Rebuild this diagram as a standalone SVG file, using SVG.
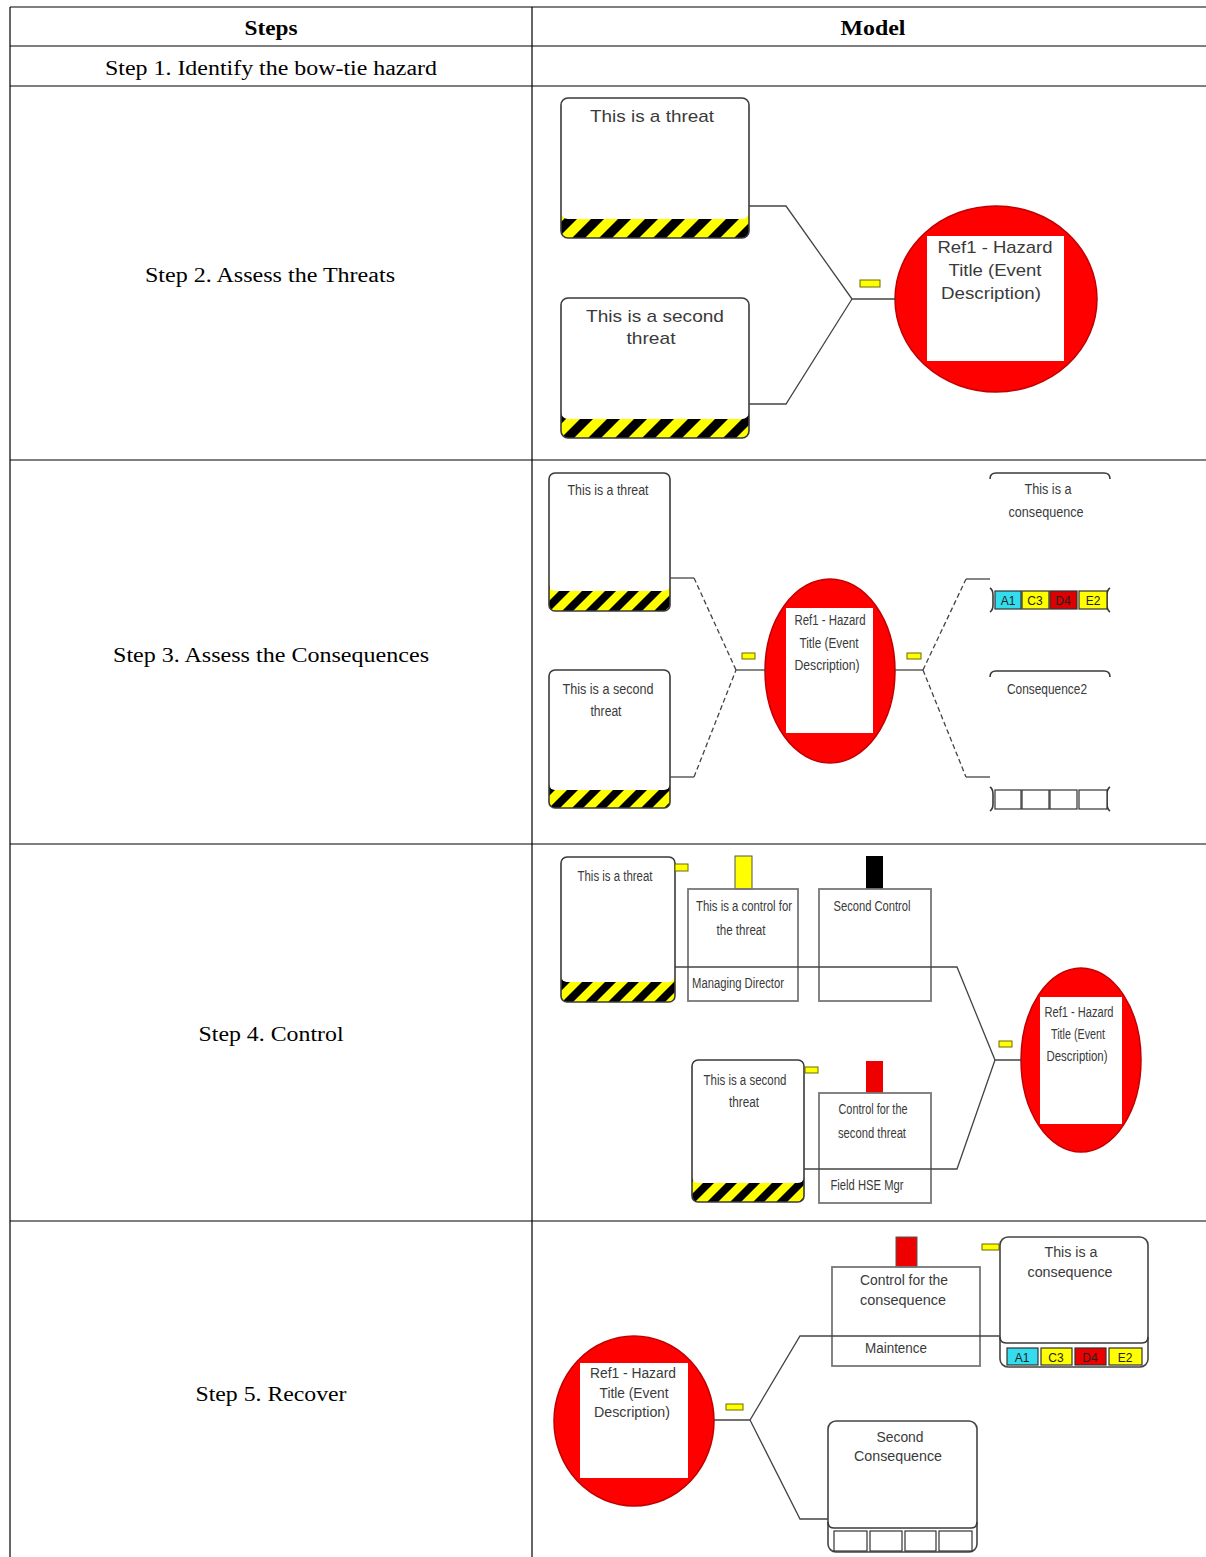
<svg xmlns="http://www.w3.org/2000/svg" width="1206" height="1557" viewBox="0 0 1206 1557">
<style>
.grid{stroke:#000;stroke-width:1.2;fill:none}
.tbl{font-family:"Liberation Serif","Times New Roman",serif;font-size:20px;fill:#000;text-anchor:middle}
.hdr{font-weight:bold}
.lbl{font-family:"Liberation Sans",Arial,sans-serif;fill:#3a3a3a;text-anchor:middle}
.s2{font-size:17px}
.sm{font-size:14px}
.bdg{font-family:"Liberation Sans",Arial,sans-serif;font-size:12px;fill:#222;text-anchor:middle}
.outl{fill:none;stroke:#3a3a3a;stroke-width:1.6}
.box{fill:#fff;stroke:#444;stroke-width:1.6}
.ctl{fill:none;stroke:#777;stroke-width:1.8}
.conn{fill:none;stroke:#444;stroke-width:1.3}
.dash{stroke-dasharray:5 3}
.tab{fill:#ffff00;stroke:#6b6b00;stroke-width:1}
.haz{fill:#ff0000;stroke:#c00000;stroke-width:1.5}
.hin{fill:#fff}
.cell{stroke:#333;stroke-width:1.2}
</style>
<defs>
<pattern id="hz1" patternUnits="userSpaceOnUse" width="27" height="27" patternTransform="skewX(-45)"><rect width="27" height="27" fill="#ffff00"/><rect width="13" height="27" fill="#000"/></pattern>
<pattern id="hz2" patternUnits="userSpaceOnUse" width="23" height="23" patternTransform="skewX(-45)"><rect width="23" height="23" fill="#ffff00"/><rect width="11" height="23" fill="#000"/></pattern>
</defs>
<rect width="1206" height="1557" fill="#fff"/>

<g id="table">
<line class="grid" x1="10" y1="7" x2="1206" y2="7"/>
<line class="grid" x1="10" y1="46" x2="1206" y2="46"/>
<line class="grid" x1="10" y1="86" x2="1206" y2="86"/>
<line class="grid" x1="10" y1="460" x2="1206" y2="460"/>
<line class="grid" x1="10" y1="844" x2="1206" y2="844"/>
<line class="grid" x1="10" y1="1221" x2="1206" y2="1221"/>
<line class="grid" x1="10" y1="7" x2="10" y2="1557"/>
<line class="grid" x1="532" y1="7" x2="532" y2="1557"/>
<text class="tbl hdr" x="271" y="35" textLength="53" lengthAdjust="spacingAndGlyphs">Steps</text>
<text class="tbl hdr" x="873" y="35" textLength="65" lengthAdjust="spacingAndGlyphs">Model</text>
<text class="tbl" x="271" y="75" textLength="332" lengthAdjust="spacingAndGlyphs">Step 1. Identify the bow-tie hazard</text>
<text class="tbl" x="270" y="282" textLength="250" lengthAdjust="spacingAndGlyphs">Step 2. Assess the Threats</text>
<text class="tbl" x="271" y="662" textLength="316" lengthAdjust="spacingAndGlyphs">Step 3. Assess the Consequences</text>
<text class="tbl" x="271" y="1041" textLength="145" lengthAdjust="spacingAndGlyphs">Step 4. Control</text>
<text class="tbl" x="271" y="1401" textLength="151" lengthAdjust="spacingAndGlyphs">Step 5. Recover</text>
</g>

<!-- ===== Step 2 ===== -->
<g id="s2-threat1">
<rect x="561" y="98" width="188" height="140" rx="7" fill="url(#hz1)"/>
<rect x="561" y="98" width="188" height="121" rx="7" fill="#fff"/>
<rect class="outl" x="561" y="98" width="188" height="140" rx="7"/>
<text class="lbl s2" x="652" y="122" textLength="124" lengthAdjust="spacingAndGlyphs">This is a threat</text>
</g>
<g id="s2-threat2">
<rect x="561" y="298" width="188" height="140" rx="7" fill="url(#hz1)"/>
<rect x="561" y="298" width="188" height="121" rx="7" fill="#fff"/>
<rect class="outl" x="561" y="298" width="188" height="140" rx="7"/>
<text class="lbl s2" x="655" y="322" textLength="138" lengthAdjust="spacingAndGlyphs">This is a second</text>
<text class="lbl s2" x="651" y="344" textLength="49" lengthAdjust="spacingAndGlyphs">threat</text>
</g>
<g id="s2-tab"><rect class="tab" x="860" y="280" width="20" height="7"/></g>
<g id="s2-hazard">
<ellipse class="haz" cx="996" cy="299" rx="101" ry="93"/>
<rect class="hin" x="927" y="236" width="137" height="125"/>
<text class="lbl s2" x="995" y="253" textLength="115" lengthAdjust="spacingAndGlyphs">Ref1 - Hazard</text>
<text class="lbl s2" x="995" y="276" textLength="93" lengthAdjust="spacingAndGlyphs">Title (Event</text>
<text class="lbl s2" x="991" y="299" textLength="100" lengthAdjust="spacingAndGlyphs">Description)</text>
</g>

<!-- ===== Step 3 ===== -->
<g id="s3-threat1">
<rect x="549" y="473" width="121" height="138" rx="6" fill="url(#hz2)"/>
<rect x="549" y="473" width="121" height="118" rx="6" fill="#fff"/>
<rect class="outl" x="549" y="473" width="121" height="138" rx="6"/>
<text class="lbl sm" x="608" y="495" textLength="81" lengthAdjust="spacingAndGlyphs">This is a threat</text>
</g>
<g id="s3-threat2">
<rect x="549" y="670" width="121" height="138" rx="6" fill="url(#hz2)"/>
<rect x="549" y="670" width="121" height="120" rx="6" fill="#fff"/>
<rect class="outl" x="549" y="670" width="121" height="138" rx="6"/>
<text class="lbl sm" x="608" y="694" textLength="91" lengthAdjust="spacingAndGlyphs">This is a second</text>
<text class="lbl sm" x="606" y="716" textLength="31" lengthAdjust="spacingAndGlyphs">threat</text>
</g>
<g id="s3-tabs">
<rect class="tab" x="742" y="653" width="13" height="6"/>
<rect class="tab" x="907" y="653" width="14" height="6"/>
</g>
<g id="s3-hazard">
<ellipse class="haz" cx="830" cy="671" rx="65" ry="92"/>
<rect class="hin" x="786" y="608" width="87" height="125"/>
<text class="lbl sm" x="830" y="625" textLength="71" lengthAdjust="spacingAndGlyphs">Ref1 - Hazard</text>
<text class="lbl sm" x="829" y="648" textLength="59" lengthAdjust="spacingAndGlyphs">Title (Event</text>
<text class="lbl sm" x="827" y="670" textLength="65" lengthAdjust="spacingAndGlyphs">Description)</text>
</g>
<g id="s3-consequence1">
<path class="outl" d="M990,479 Q990,473 996,473 H1104 Q1110,473 1110,479"/>
<path class="outl" d="M990,588 Q993,590 993,595 V605 Q993,610 990,612 M1110,588 Q1107,590 1107,595 V605 Q1107,610 1110,612"/>
<rect class="cell" x="995" y="591" width="26" height="18" fill="#33ddee"/>
<rect class="cell" x="1022" y="591" width="27" height="18" fill="#ffff00"/>
<rect class="cell" x="1050" y="591" width="27" height="18" fill="#dd0000"/>
<rect class="cell" x="1079" y="591" width="28" height="18" fill="#ffff00"/>
<text class="bdg" x="1008" y="605">A1</text>
<text class="bdg" x="1035" y="605">C3</text>
<text class="bdg" x="1063" y="605">D4</text>
<text class="bdg" x="1093" y="605">E2</text>
<text class="lbl sm" x="1048" y="494" textLength="47" lengthAdjust="spacingAndGlyphs">This is a</text>
<text class="lbl sm" x="1046" y="517" textLength="75" lengthAdjust="spacingAndGlyphs">consequence</text>
</g>
<g id="s3-consequence2">
<path class="outl" d="M990,677 Q990,671 996,671 H1104 Q1110,671 1110,677"/>
<path class="outl" d="M990,787 Q993,789 993,794 V804 Q993,809 990,811 M1110,787 Q1107,789 1107,794 V804 Q1107,809 1110,811"/>
<rect class="cell" x="995" y="790" width="26" height="19" fill="#fff"/>
<rect class="cell" x="1022" y="790" width="27" height="19" fill="#fff"/>
<rect class="cell" x="1050" y="790" width="27" height="19" fill="#fff"/>
<rect class="cell" x="1079" y="790" width="28" height="19" fill="#fff"/>
<text class="lbl sm" x="1047" y="694" textLength="80" lengthAdjust="spacingAndGlyphs">Consequence2</text>
</g>

<!-- ===== Step 4 ===== -->
<g id="s4-threat1">
<rect x="561" y="857" width="114" height="145" rx="6" fill="url(#hz2)"/>
<rect x="561" y="857" width="114" height="125" rx="6" fill="#fff"/>
<rect class="outl" x="561" y="857" width="114" height="145" rx="6"/>
<rect class="tab" x="675" y="864" width="13" height="7"/>
<text class="lbl sm" x="615" y="881" textLength="75" lengthAdjust="spacingAndGlyphs">This is a threat</text>
</g>
<g id="s4-control1">
<rect x="735" y="856" width="17" height="33" fill="#ffff00" stroke="#555" stroke-width="1"/>
<rect class="ctl" x="688" y="889" width="110" height="112"/>
<text class="lbl sm" x="744" y="911" textLength="96" lengthAdjust="spacingAndGlyphs">This is a control for</text>
<text class="lbl sm" x="741" y="935" textLength="49" lengthAdjust="spacingAndGlyphs">the threat</text>
<text class="lbl sm" x="738" y="988" textLength="92" lengthAdjust="spacingAndGlyphs">Managing Director</text>
</g>
<g id="s4-control2">
<rect x="866" y="856" width="17" height="33" fill="#000"/>
<rect class="ctl" x="819" y="889" width="112" height="112"/>
<text class="lbl sm" x="872" y="911" textLength="77" lengthAdjust="spacingAndGlyphs">Second Control</text>
</g>
<g id="s4-tab"><rect class="tab" x="999" y="1041" width="13" height="6"/></g>
<g id="s4-hazard">
<ellipse class="haz" cx="1081" cy="1060" rx="60" ry="92"/>
<rect class="hin" x="1040" y="997" width="82" height="127"/>
<text class="lbl sm" x="1079" y="1017" textLength="69" lengthAdjust="spacingAndGlyphs">Ref1 - Hazard</text>
<text class="lbl sm" x="1078" y="1039" textLength="54" lengthAdjust="spacingAndGlyphs">Title (Event</text>
<text class="lbl sm" x="1077" y="1061" textLength="61" lengthAdjust="spacingAndGlyphs">Description)</text>
</g>
<g id="s4-threat2">
<rect x="692" y="1060" width="112" height="142" rx="6" fill="url(#hz2)"/>
<rect x="692" y="1060" width="112" height="123" rx="6" fill="#fff"/>
<rect class="outl" x="692" y="1060" width="112" height="142" rx="6"/>
<rect class="tab" x="805" y="1067" width="13" height="6"/>
<text class="lbl sm" x="745" y="1085" textLength="83" lengthAdjust="spacingAndGlyphs">This is a second</text>
<text class="lbl sm" x="744" y="1107" textLength="30" lengthAdjust="spacingAndGlyphs">threat</text>
</g>
<g id="s4-control3">
<rect x="866" y="1061" width="17" height="32" fill="#ee0000"/>
<rect class="ctl" x="819" y="1093" width="112" height="110"/>
<text class="lbl sm" x="873" y="1114" textLength="69" lengthAdjust="spacingAndGlyphs">Control for the</text>
<text class="lbl sm" x="872" y="1138" textLength="68" lengthAdjust="spacingAndGlyphs">second threat</text>
<text class="lbl sm" x="867" y="1190" textLength="73" lengthAdjust="spacingAndGlyphs">Field HSE Mgr</text>
</g>

<!-- ===== Step 5 ===== -->
<g id="s5-hazard">
<ellipse class="haz" cx="634" cy="1421" rx="80" ry="85"/>
<rect class="hin" x="580" y="1363" width="108" height="115"/>
<text class="lbl sm" x="633" y="1378" textLength="86" lengthAdjust="spacingAndGlyphs">Ref1 - Hazard</text>
<text class="lbl sm" x="634" y="1398" textLength="69" lengthAdjust="spacingAndGlyphs">Title (Event</text>
<text class="lbl sm" x="632" y="1417" textLength="76" lengthAdjust="spacingAndGlyphs">Description)</text>
</g>
<g id="s5-tab"><rect class="tab" x="726" y="1404" width="17" height="6"/></g>
<g id="s5-control">
<rect x="896" y="1237" width="21" height="30" fill="#ee0000" stroke="#555" stroke-width="1"/>
<rect class="ctl" x="832" y="1267" width="148" height="99"/>
<text class="lbl sm" x="904" y="1285" textLength="88" lengthAdjust="spacingAndGlyphs">Control for the</text>
<text class="lbl sm" x="903" y="1305" textLength="86" lengthAdjust="spacingAndGlyphs">consequence</text>
<text class="lbl sm" x="896" y="1353" textLength="62" lengthAdjust="spacingAndGlyphs">Maintence</text>
</g>
<g id="s5-consequence1">
<rect class="tab" x="982" y="1244" width="17" height="6"/>
<rect class="box" x="1000" y="1237" width="148" height="130" rx="8"/>
<path class="outl" d="M1000,1337 Q1000,1343 1006,1343 H1142 Q1148,1343 1148,1337"/>
<rect class="cell" x="1007" y="1348" width="31" height="17" fill="#33ddee"/>
<rect class="cell" x="1041" y="1348" width="31" height="17" fill="#ffff00"/>
<rect class="cell" x="1075" y="1348" width="31" height="17" fill="#ee0000"/>
<rect class="cell" x="1109" y="1348" width="33" height="17" fill="#ffff00"/>
<text class="bdg" x="1022" y="1362">A1</text>
<text class="bdg" x="1056" y="1362">C3</text>
<text class="bdg" x="1090" y="1362" fill="#880000">D4</text>
<text class="bdg" x="1125" y="1362">E2</text>
<text class="lbl sm" x="1071" y="1257" textLength="53" lengthAdjust="spacingAndGlyphs">This is a</text>
<text class="lbl sm" x="1070" y="1277" textLength="85" lengthAdjust="spacingAndGlyphs">consequence</text>
</g>
<g id="s5-consequence2">
<rect class="box" x="828" y="1421" width="149" height="131" rx="8"/>
<path class="outl" d="M828,1522 Q828,1528 834,1528 H971 Q977,1528 977,1522"/>
<rect class="cell" x="834" y="1531" width="33" height="20" fill="#fff"/>
<rect class="cell" x="870" y="1531" width="32" height="20" fill="#fff"/>
<rect class="cell" x="905" y="1531" width="31" height="20" fill="#fff"/>
<rect class="cell" x="939" y="1531" width="33" height="20" fill="#fff"/>
<text class="lbl sm" x="900" y="1442" textLength="47" lengthAdjust="spacingAndGlyphs">Second</text>
<text class="lbl sm" x="898" y="1461" textLength="88" lengthAdjust="spacingAndGlyphs">Consequence</text>
</g>

<g id="connectors">
<!-- step 2 -->
<polyline class="conn" points="749,206 786,206 852,299 896,299"/>
<polyline class="conn" points="749,404 786,404 852,299"/>
<!-- step 3 -->
<polyline class="conn" points="670,578 694,578"/>
<polyline class="conn dash" points="694,578 736,670"/>
<polyline class="conn" points="736,670 766,670"/>
<polyline class="conn" points="670,777 694,777"/>
<polyline class="conn dash" points="694,777 736,670"/>
<polyline class="conn" points="895,670 923,670"/>
<polyline class="conn dash" points="923,670 966,579"/>
<polyline class="conn dash" points="923,670 966,777"/>
<polyline class="conn" points="966,579 990,579"/>
<polyline class="conn" points="966,777 990,777"/>
<!-- step 4 -->
<polyline class="conn" points="675,967 957,967 995,1060 1022,1060"/>
<polyline class="conn" points="804,1169 957,1169 995,1060"/>
<!-- step 5 -->
<polyline class="conn" points="714,1420 750,1420 800,1336 1000,1336"/>
<polyline class="conn" points="750,1420 800,1519 828,1519"/>
</g>
</svg>
